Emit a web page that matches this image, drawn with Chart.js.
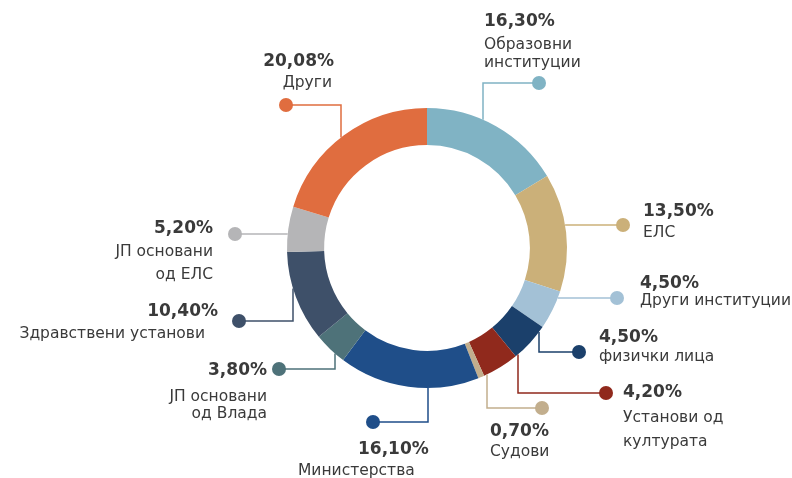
<!DOCTYPE html>
<html>
<head>
<meta charset="utf-8">
<script src="https://cdn.jsdelivr.net/npm/chart.js@4/dist/chart.umd.min.js"></script>
<style>
  html, body { margin: 0; padding: 0; background: #fff; }
  canvas { display: block; }
</style>
</head>
<body>
<canvas id="grafik" width="792" height="478"></canvas>
<script>
const categories = ['Образовни институции', 'ЕЛС', 'Други институции', 'физички лица', 'Установи од културата', 'Судови', 'Министерства', 'ЈП основани од Влада', 'Здравствени установи', 'ЈП основани од ЕЛС', 'Други'];
const shares = [16.30, 13.50, 4.50, 4.50, 4.20, 0.70, 16.10, 3.80, 10.40, 5.20, 20.08];
const labelLines = [['Образовни', 'институции'], ['ЕЛС'], ['Други институции'], ['физички лица'], ['Установи од', 'културата'], ['Судови'], ['Министерства'], ['ЈП основани', 'од Влада'], ['Здравствени установи'], ['ЈП основани', 'од ЕЛС'], ['Други']];
const colors = ['#80b3c4', '#cbb079', '#a3c1d6', '#1b406b', '#90291c', '#c2ae8d', '#1f4e89', '#4e7279', '#3e5069', '#b5b5b7', '#e06d3f'];

// leader lines and text, offsets from the doughnut centre
// v: vertical from ring at x=lx down/up to ly, then horizontal to dot
// h: horizontal from ring at y=ly to dot
const callouts = [
  { kind: 'v', lx: 56, ly: -165, dot: 112, align: 'left', pos: [[57, -226], [57, -203], [57, -185]] },
  { kind: 'h', ly: -23, dot: 196, align: 'left', pos: [[216, -36], [216, -15]] },
  { kind: 'h', ly: 50, dot: 190, align: 'left', pos: [[213, 36], [213, 53]] },
  { kind: 'v', lx: 112, ly: 104, dot: 152, align: 'left', pos: [[172, 90], [172, 109]] },
  { kind: 'v', lx: 91, ly: 145, dot: 179, align: 'left', pos: [[196, 145], [196, 170], [196, 194]] },
  { kind: 'v', lx: 60, ly: 160, dot: 115, align: 'left', pos: [[63, 184], [63, 204]] },
  { kind: 'v', lx: 1, ly: 174, dot: -54, align: 'left', pos: [[-69, 202], [-129, 223]] },
  { kind: 'v', lx: -92, ly: 121, dot: -148, align: 'right', pos: [[-160, 123], [-160, 149], [-160, 166]] },
  { kind: 'v', lx: -134, ly: 73, dot: -188, align: 'right', pos: [[-209, 64], [-222, 86]] },
  { kind: 'h', ly: -14, dot: -192, align: 'right', pos: [[-214, -19], [-214, 4], [-214, 27]] },
  { kind: 'v', lx: -86, ly: -143, dot: -141, align: 'right', pos: [[-93, -186], [-95, -165]] }
];

const calloutPlugin = {
  id: 'callouts',
  afterDraw(chart) {
    const ctx = chart.ctx;
    const arc = chart.getDatasetMeta(0).data[0];
    const cx = arc.x, cy = arc.y, R = arc.outerRadius;
    ctx.save();
    callouts.forEach((c, i) => {
      const col = colors[i];
      let pts;
      if (c.kind === 'v') {
        const h = Math.sqrt(Math.max(0, R * R - c.lx * c.lx));
        const sy = cy + (c.ly < 0 ? -h : h);
        pts = [[cx + c.lx, sy], [cx + c.lx, cy + c.ly], [cx + c.dot, cy + c.ly]];
      } else {
        const w = Math.sqrt(Math.max(0, R * R - c.ly * c.ly));
        const sx = cx + (c.dot < 0 ? -w : w);
        pts = [[sx, cy + c.ly], [cx + c.dot, cy + c.ly]];
      }
      ctx.strokeStyle = col;
      ctx.lineWidth = 1.5;
      ctx.beginPath();
      ctx.moveTo(pts[0][0], pts[0][1]);
      for (let k = 1; k < pts.length; k++) ctx.lineTo(pts[k][0], pts[k][1]);
      ctx.stroke();
      const d = pts[pts.length - 1];
      ctx.fillStyle = col;
      ctx.beginPath();
      ctx.arc(d[0], d[1], 7, 0, Math.PI * 2);
      ctx.fill();

      const lines = [shares[i].toFixed(2).replace('.', ',') + '%'].concat(labelLines[i]);
      ctx.fillStyle = '#3a3a3a';
      ctx.textAlign = c.align;
      ctx.textBaseline = 'middle';
      lines.forEach((t, k) => {
        ctx.font = k === 0 ? 'bold 17px "DejaVu Sans"' : '15.5px "DejaVu Sans"';
        ctx.fillText(t, cx + c.pos[k][0], cy + c.pos[k][1]);
      });
    });
    ctx.restore();
  }
};

new Chart(document.getElementById('grafik'), {
  type: 'doughnut',
  data: {
    labels: categories,
    datasets: [{
      data: shares,
      backgroundColor: colors,
      borderWidth: 0
    }]
  },
  options: {
    responsive: false,
    animation: false,
    cutout: '73.5%',
    layout: { padding: { left: 287, right: 225, top: 108, bottom: 90 } },
    plugins: {
      legend: { display: false },
      tooltip: { enabled: false }
    }
  },
  plugins: [calloutPlugin]
});
</script>
</body>
</html>
